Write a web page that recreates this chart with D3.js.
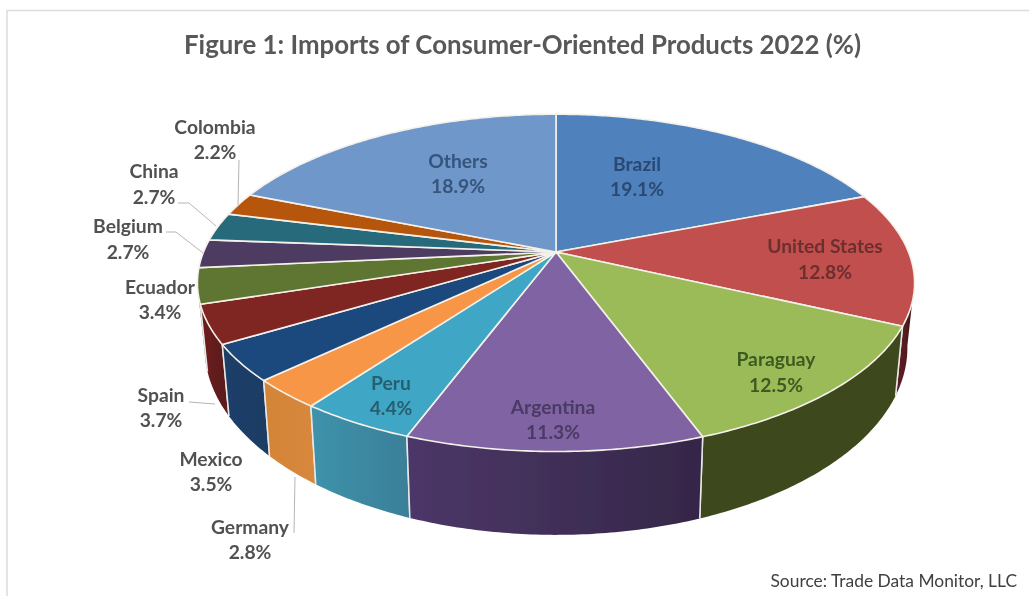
<!DOCTYPE html>
<html>
<head>
<meta charset="utf-8">
<script src="https://cdn.jsdelivr.net/npm/d3@7"></script>
<style>
html,body{margin:0;padding:0;background:#fff;overflow:hidden}
svg{display:block}
text{font-family:Lato,"Open Sans",sans-serif;font-weight:700}
</style>
</head>
<body>
<svg id="c" width="1029" height="596"></svg>
<script>
// ---- data ----
const categories = ["Brazil","United States","Paraguay","Argentina","Peru","Germany","Mexico","Spain","Ecuador","Belgium","China","Colombia","Others"];
const shares = [19.1,12.8,12.5,11.3,4.4,2.8,3.5,3.7,3.4,2.7,2.7,2.2,18.9];
const titleText = "Figure 1: Imports of Consumer-Oriented Products 2022 (%)";
const sourceText = "Source: Trade Data Monitor, LLC";

// ---- styles ----
const topColors = ["#4f81bd","#c0504d","#9bbb59","#8064a2","#40a6c6","#f79646","#1f497d","#7f2623","#5f7530","#4d3b62","#276a7c","#b65708","#6f97c9"];
const wallStart = ["#2a4566","#5a1f24","#3d4a1f","#4c3768","#3f92ab","#d48438","#1d3f69","#701f1f","#3d4a1f","#33264a","#1d4f5d","#7a3a06","#4a668a"];
const wallEnd   = ["#2a4566","#3d1216","#3d4a1f","#352748","#3a8099","#d8883c","#1f3d64","#5c1a1a","#3d4a1f","#33264a","#1d4f5d","#7a3a06","#4a668a"];
const textColors = ["#2b4a72","#6d2d2f","#3e5a20","#4a3a66","#27606f","#515151","#515151","#515151","#515151","#515151","#515151","#515151","#36547c"];
// label centres (x, first-line y, second-line y)
const labelPos = [[637,164,189],[825,246,272],[776,359,385],[553,407,432],[391,383,408],[250,527,552],[211,459,484],[161,395,420],[160,287,312],[128,226,252],[154,171,197],[215,127,152],[458,161,186]];
const leaders = [
  [[239,160],[238,205]],
  [[178,203],[189,203],[216,226]],
  [[166,232],[176,232],[203,253]],
  [[189,402],[215,404]],
  [[295,477],[294,533]]
];

// ---- geometry: perspective disk ----
const apexX = 556, apexY = 252;
const k = 0.183;
const sx = d3.scaleLinear().domain([-1,1]).range([apexX-352.5, apexX+352.5]);
const sy = d3.scaleLinear().domain([-1,1]).range([apexY-163, apexY+163]);
// a = angle clockwise from the top, r = disk radius fraction
function topPt(a, r=1){
  const u = r*Math.sin(a), v = -r*Math.cos(a), w = 1-k*v;
  return [sx(u/w), sy(v/w)];
}
function botPt(a){
  const p = topPt(a);
  return [apexX+(p[0]-apexX)*0.98, 400+(p[1]-330)*1.11];
}
const arcAngles = (a0,a1) => { const n = Math.max(2, Math.ceil((a1-a0)*90)); return d3.range(n+1).map(i => a0+(a1-a0)*i/n); };
const line = d3.line();

const pieGen = d3.pie().sort(null).value(d => d);
const slices = pieGen(shares);

const svg = d3.select("#c");
const defs = svg.append("defs");
defs.append("filter").attr("id","soft").attr("x","-5%").attr("y","-5%").attr("width","110%").attr("height","110%")
  .append("feGaussianBlur").attr("stdDeviation",0.4);
const root = svg.append("g").attr("filter","url(#soft)");
root.append("rect").attr("width",1029).attr("height",596).attr("fill","#fff");

// frame
root.append("path").attr("d", line([[7,596],[7,10.5],[1029,10.5]])).attr("fill","none").attr("stroke","#dcdcdc").attr("stroke-width",1.5);

// title and source
root.append("text").attr("x",522.5).attr("y",54).attr("text-anchor","middle").attr("font-size",25.8).attr("fill","#595959").text(titleText);
root.append("text").attr("x",1017).attr("y",587).attr("text-anchor","end").attr("font-size",17.4).style("font-weight",400).attr("fill","#404040").text(sourceText);

// walls
const visFrom = 100*Math.PI/180, visTo = 258*Math.PI/180, mid = Math.PI;
const wallOrder = slices.map((d,i)=>i).filter(i => slices[i].endAngle>visFrom && slices[i].startAngle<visTo)
  .sort((p,q)=>Math.abs((slices[q].startAngle+slices[q].endAngle)/2-mid)-Math.abs((slices[p].startAngle+slices[p].endAngle)/2-mid));
wallOrder.forEach(i=>{
  const a0 = Math.max(slices[i].startAngle, visFrom), a1 = Math.min(slices[i].endAngle, visTo);
  const as = arcAngles(a0,a1);
  const pts = as.map(a=>topPt(a)).concat(as.slice().reverse().map(botPt));
  const g = defs.append("linearGradient").attr("id","w"+i).attr("gradientUnits","userSpaceOnUse")
    .attr("x1",topPt(a1)[0]).attr("x2",topPt(a0)[0]).attr("y1",0).attr("y2",0);
  g.append("stop").attr("offset",0).attr("stop-color",wallStart[i]);
  g.append("stop").attr("offset",1).attr("stop-color",wallEnd[i]);
  root.append("path").attr("d",line(pts)+"Z").attr("fill",`url(#w${i})`);
  [slices[i].startAngle, slices[i].endAngle].forEach(a=>{
    if(a>=visFrom && a<=visTo){
      root.append("path").attr("d",line([topPt(a),botPt(a)])).attr("stroke","#e8e8e8").attr("stroke-width",1.5).attr("fill","none");
    }
  });
});

// top faces
slices.forEach((s,i)=>{
  const pts = [[apexX,apexY]].concat(arcAngles(s.startAngle,s.endAngle).map(a=>topPt(a)));
  root.append("path").attr("d",line(pts)+"Z").attr("fill",topColors[i]).attr("stroke","#f4f1ea").attr("stroke-width",1.6).attr("stroke-linejoin","round");
});

// leaders
leaders.forEach(l=>{
  root.append("path").attr("d",line(l)).attr("fill","none").attr("stroke","#b5b5b5").attr("stroke-width",1);
});

// labels
categories.forEach((c,i)=>{
  const [x,y1,y2] = labelPos[i];
  const f = d3.format(".1f");
  [[c,y1],[f(shares[i])+"%",y2]].forEach(([t,y])=>{
    root.append("text").attr("x",x).attr("y",y).attr("dy","0.35em").attr("text-anchor","middle").attr("font-size",19.3).attr("fill",textColors[i]).text(t);
  });
});
</script>
</body>
</html>
